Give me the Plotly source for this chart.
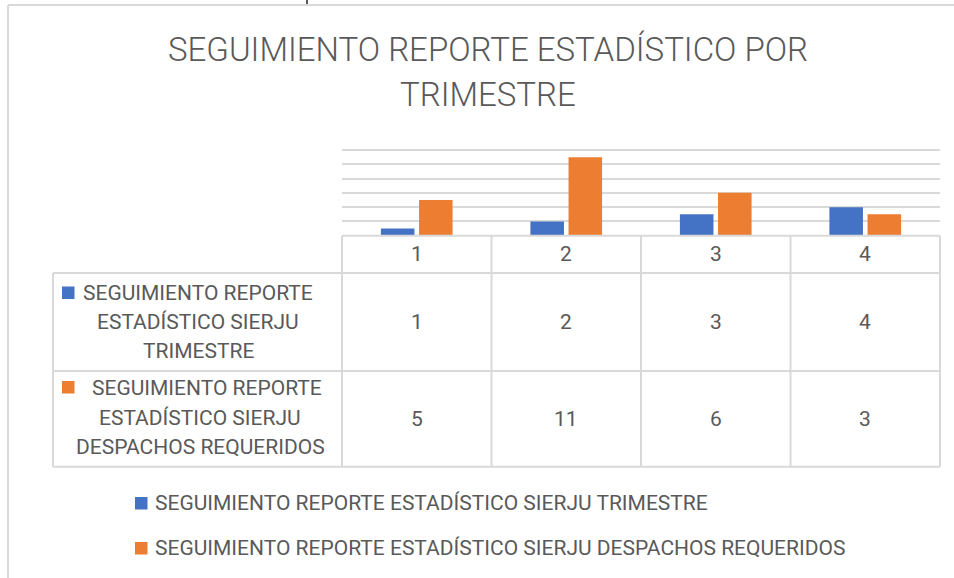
import plotly.graph_objects as go

W, H = 954, 578

# ---- data ----
trimestres = ["1", "2", "3", "4"]
serie_trimestre = [1, 2, 3, 4]
serie_despachos = [5, 11, 6, 3]
nombre_trimestre = "SEGUIMIENTO REPORTE ESTADÍSTICO SIERJU TRIMESTRE"
nombre_despachos = "SEGUIMIENTO REPORTE ESTADÍSTICO SIERJU DESPACHOS REQUERIDOS"
lineas_trimestre = ["SEGUIMIENTO REPORTE", "ESTADÍSTICO SIERJU", "TRIMESTRE"]
lineas_despachos = ["SEGUIMIENTO REPORTE", "ESTADÍSTICO SIERJU", "DESPACHOS REQUERIDOS"]
titulo_lineas = ["SEGUIMIENTO REPORTE ESTADÍSTICO POR", "TRIMESTRE"]

AZUL = "#4472C4"
NARANJA = "#ED7D31"
GRIS = "#595959"
LINEA = "#d9d9d9"
FONT = "Roboto"
TXT = 21


def px(x):
    return x / W


def py(y):
    return 1 - y / H


fig = go.Figure()
fig.add_trace(go.Bar(x=trimestres, y=serie_trimestre, name=nombre_trimestre,
                     marker=dict(color=AZUL, line=dict(width=0))))
fig.add_trace(go.Bar(x=trimestres, y=serie_despachos, name=nombre_despachos,
                     marker=dict(color=NARANJA, line=dict(width=0))))

# plot area geometry (pixels)
X0, X1 = 342, 940
Y_BASE = 235.7
Y_MAX = 12.5
Y_TOP = Y_BASE - Y_MAX * (Y_BASE - 150) / 12
ROW1, ROW2, ROW3 = 273, 371, 466.7
LEFT = 53

fig.update_layout(
    width=W, height=H,
    margin=dict(l=0, r=0, t=0, b=0),
    paper_bgcolor="white", plot_bgcolor="white",
    barmode="group", bargap=0.49, bargroupgap=0.12,
    showlegend=False,
    font=dict(family=FONT, color=GRIS),
    xaxis=dict(type="category", domain=[px(X0), px(X1)], range=[-0.5, 3.5],
               showticklabels=False, showgrid=False, zeroline=False,
               showline=False, ticks=""),
    yaxis=dict(domain=[py(Y_BASE), py(Y_TOP)], range=[0, Y_MAX], tick0=0, dtick=2,
               showticklabels=False, showgrid=True, gridcolor=LINEA, gridwidth=2,
               zeroline=False, showline=False, ticks=""),
)

shapes = []


def hline(y, x0, x1, color=LINEA, w=2):
    shapes.append(dict(type="line", xref="paper", yref="paper",
                       x0=px(x0), x1=px(x1), y0=py(y), y1=py(y),
                       line=dict(color=color, width=w)))


def vline(x, y0, y1, color=LINEA, w=2):
    shapes.append(dict(type="line", xref="paper", yref="paper",
                       x0=px(x), x1=px(x), y0=py(y0), y1=py(y1),
                       line=dict(color=color, width=w)))


# outer chart border (partial, as cropped)
hline(5, 8, W)
vline(8, 5, H)
# small cropped mark at top
vline(307, 0, 4, color="#222222", w=1.5)

# table
hline(Y_BASE, X0, X1)
for yy in (ROW1, ROW2, ROW3):
    hline(yy, LEFT, X1)
vline(LEFT, ROW1, ROW3)
col_edges = [X0 + i * (X1 - X0) / 4 for i in range(5)]
for xe in col_edges:
    vline(xe, Y_BASE, ROW3)


def square(x0, y0, color, size=12.5):
    shapes.append(dict(type="rect", xref="paper", yref="paper",
                       x0=px(x0), x1=px(x0 + size), y0=py(y0 + size), y1=py(y0),
                       fillcolor=color, line=dict(width=0)))


square(62, 286.5, AZUL)
square(62, 381, NARANJA)
square(135, 497, AZUL)
square(135, 542, NARANJA)
fig.update_layout(shapes=shapes)

ann = []


def text(x, y, s, size=TXT, xanchor="center", weight=None):
    f = dict(family=FONT, size=size, color=GRIS)
    if weight:
        f["weight"] = weight
    ann.append(dict(x=px(x), y=py(y), xref="paper", yref="paper",
                    text=s, showarrow=False, xanchor=xanchor, yanchor="middle",
                    font=f))


def cell(idx, y, s):
    # idx = category index on the x axis (category axis positions)
    ann.append(dict(x=idx, y=py(y), xref="x", yref="paper", text=s,
                    showarrow=False, xanchor="center", yanchor="middle",
                    font=dict(family=FONT, size=TXT, color=GRIS)))


# title
text(488, 50, titulo_lineas[0], size=33, weight=300)
text(488, 95, titulo_lineas[1], size=33, weight=300)

# header row
for i, c in enumerate(trimestres):
    cell(i, (Y_BASE + ROW1) / 2, c)

# data rows
for vals, y_mid in ((serie_trimestre, (ROW1 + ROW2) / 2), (serie_despachos, (ROW2 + ROW3) / 2)):
    for i, v in enumerate(vals):
        cell(i, y_mid, str(v))

# row labels
for i, ln in enumerate(lineas_trimestre):
    text(198, 293 + i * 29, ln)
for i, ln in enumerate(lineas_despachos):
    text(207 if i == 0 else 200, 388 + i * 29.5, ln)

# legend
text(153, 503, nombre_trimestre, xanchor="left")
text(153, 548, nombre_despachos, xanchor="left")

fig.update_layout(annotations=ann)
fig.write_html("out.html", config={"displayModeBar": False},
               post_script="document.body.style.margin='0px';")
